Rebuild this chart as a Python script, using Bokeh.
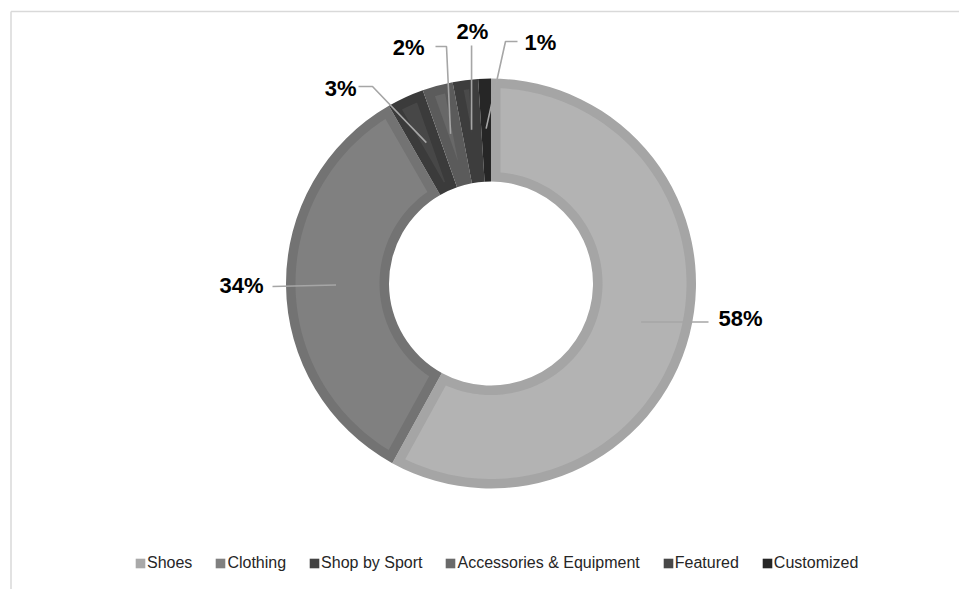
import math
from bokeh.plotting import figure
from bokeh.models import Range1d, Legend, LegendItem, ColumnDataSource
from bokeh.embed import file_html
from bokeh.resources import INLINE
from bokeh.core.properties import value

# ---------------- data ----------------
categories = ["Shoes", "Clothing", "Shop by Sport", "Accessories & Equipment", "Featured", "Customized"]
shares = [58.0, 33.7, 2.9, 2.4, 2.0, 1.0]

# ---------------- styles ----------------
fill_colors = ["#b3b3b3", "#808080", "#474747", "#686868", "#4a4a4a", "#2a2a2a"]
edge_colors = ["#a5a5a5", "#737373", "#3b3b3b", "#5b5b5b", "#3d3d3d", "#262626"]
legend_colors = ["#a9a9a9", "#808080", "#434343", "#6a6a6a", "#484848", "#262626"]
LEADER = "#a6a6a6"
FONT = "Liberation Sans"

W, H = 959, 589
CX, CY = 490.5, 283.0          # donut centre, canvas pixels
R_OUT, R_IN, BAND = 205.0, 102.0, 9.5
R_ANCHOR = 155.0


def S(sx, sy):
    """canvas pixel -> data coordinates (1 unit == 1 px)"""
    return sx - CX, CY - sy


p = figure(width=W, height=H, x_range=Range1d(-CX, W - CX), y_range=Range1d(CY - H, CY),
           output_backend="svg", toolbar_location=None, x_axis_type=None, y_axis_type=None,
           min_border=0, outline_line_color=None)
p.xgrid.visible = False
p.ygrid.visible = False

# chart-area border (left & top)
bx, by = S(10.5, 11)
p.segment(x0=[bx, bx], y0=[by, by], x1=[W - CX, bx], y1=[by, CY - H],
          line_color="#d9d9d9", line_width=1.5)

total = sum(shares)
starts, ends, mids = [], [], []
c = 0.0
for v in shares:
    c0, c1 = c / total, (c + v) / total
    starts.append(math.pi / 2 - 2 * math.pi * c1)
    ends.append(math.pi / 2 - 2 * math.pi * c0)
    mids.append(math.pi / 2 - 2 * math.pi * (c0 + c1) / 2)
    c += v

src = ColumnDataSource(dict(start=starts, end=ends, edge=edge_colors, fill=fill_colors))
p.annular_wedge(x=0, y=0, inner_radius=R_IN, outer_radius=R_OUT, start_angle="start",
                end_angle="end", fill_color="edge", line_color=None, source=src)


def inset_poly(a0, a1, r1, r2, d, n=120):
    th = a1 - a0
    r_apex = d / math.sin(th / 2) if th < 2 * math.pi else 0
    if r_apex >= r2:
        return None
    do = math.asin(d / r2)
    xs, ys = [], []
    for k in range(n + 1):
        a = a0 + do + (a1 - a0 - 2 * do) * k / n
        xs.append(r2 * math.cos(a)); ys.append(r2 * math.sin(a))
    if r_apex < r1:
        di = math.asin(d / r1)
        for k in range(n + 1):
            a = a1 - di - (a1 - a0 - 2 * di) * k / n
            xs.append(r1 * math.cos(a)); ys.append(r1 * math.sin(a))
    else:
        am = (a0 + a1) / 2
        xs.append(r_apex * math.cos(am)); ys.append(r_apex * math.sin(am))
    return xs, ys


pxs, pys, pcs = [], [], []
for a0, a1, col in zip(starts, ends, fill_colors):
    poly = inset_poly(a0, a1, R_IN + BAND, R_OUT - BAND, BAND)
    if poly:
        pxs.append(poly[0]); pys.append(poly[1]); pcs.append(col)
p.patches(xs=pxs, ys=pys, fill_color=pcs, line_color=None)

# ---------------- data labels with leader lines ----------------
anchors = [(R_ANCHOR * math.cos(m), R_ANCHOR * math.sin(m)) for m in mids]
labels = [f"{round(v / total * 100)}%" for v in shares]

# per label: leader bend points (canvas px), text position (canvas px), alignment
layout = [
    (lambda a: [(a[0], a[1]), (S(708, 0)[0], a[1])], (718, 318), "left"),
    (lambda a: [a, S(272, 286)], (263, 285), "right"),
    (lambda a: [a, S(372, 86), S(358, 86)], (356, 88), "right"),
    (lambda a: [a, S(446, 46), S(435, 46)], (424, 47), "right"),
    (lambda a: [a, (a[0], S(0, 45)[1])], (472, 31), "center"),
    (lambda a: [a, S(505, 41), S(517, 41)], (524, 42), "left"),
]

lxs, lys = [], []
groups = {}
for (fn, tpos, align), a, lab in zip(layout, anchors, labels):
    pts = fn(a)
    lxs.append([q[0] for q in pts]); lys.append([q[1] for q in pts])
    tx, ty = S(*tpos)
    g = groups.setdefault(align, dict(x=[], y=[], t=[]))
    g["x"].append(tx); g["y"].append(ty); g["t"].append(lab)

p.multi_line(xs=lxs, ys=lys, line_color=LEADER, line_width=1.6)
for align, g in groups.items():
    p.text(x=g["x"], y=g["y"], text=g["t"], text_font=value(FONT), text_font_style="bold",
           text_font_size="22px", text_align=align, text_baseline="middle", text_color="#000000")

# ---------------- legend ----------------
items = []
for cat, col in zip(categories, legend_colors):
    # proxy glyph placed far outside the visible ranges; only its legend swatch shows
    r = p.rect(x=[1e6], y=[1e6], width=1, height=1, fill_color=col, line_color=None)
    items.append(LegendItem(label=cat, renderers=[r]))

legend = Legend(items=items, orientation="horizontal", location=(134, 16),
                glyph_width=12, glyph_height=12, label_standoff=1, spacing=22,
                padding=0, margin=0, border_line_color=None, background_fill_alpha=0,
                label_text_font=FONT, label_text_font_size="16px", label_text_color="#262626",
                label_height=20)
p.add_layout(legend)

open("out.html", "w").write(file_html(p, INLINE))
